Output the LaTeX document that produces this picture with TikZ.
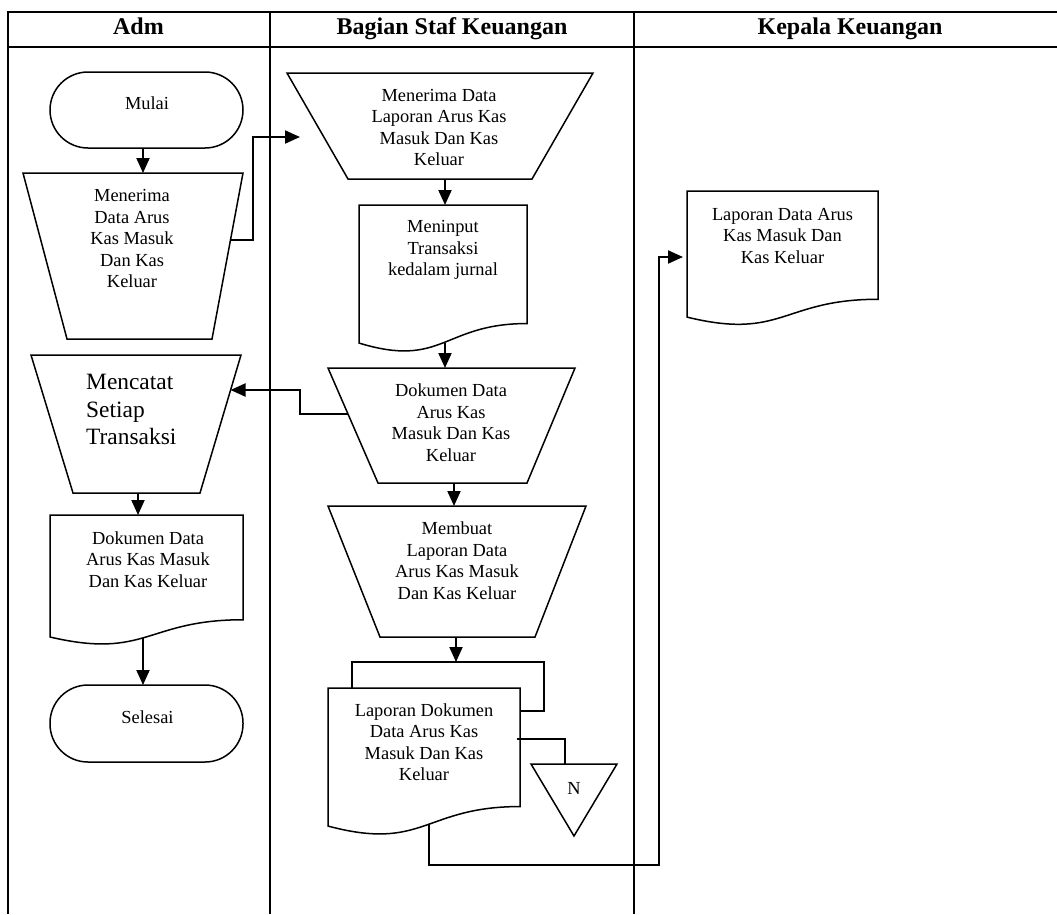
\documentclass[tikz,border=0pt]{standalone}
\usepackage{fontspec}
\setmainfont{Liberation Serif}
\usetikzlibrary{arrows.meta}

% document symbol: left, top, right, height (wavy bottom edge)
\newcommand\docshape[4]{%
  \draw[shp] (#1,#2) -- (#3,#2) -- (#3,{#2+0.802*#4})
    .. controls ({(#1+#3)/2},{#2+0.802*#4}) and ({(#1+#3)/2},{#2+1.1075*#4})
    .. (#1,{#2+0.934*#4}) -- cycle;}

\begin{document}
\begin{tikzpicture}[x=1pt,y=-1pt,
  lane/.style={line width=2pt},
  shp/.style={line width=1.5pt, line join=miter},
  flow/.style={line width=2pt},
  arr/.style={flow,-{Triangle[length=15pt,width=13pt]}},
  txt/.style={inner sep=0pt, align=center, font=\fontsize{18.4}{21.5}\selectfont},
  bigtxt/.style={inner sep=0pt, align=left, anchor=west, font=\fontsize{23.4}{27.5}\selectfont},
  head/.style={inner sep=0pt, anchor=base, font=\fontsize{24}{28}\selectfont\bfseries},
]
\useasboundingbox (0,0) rectangle (1057,914);
\fill[white] (0,0) rectangle (1057,914);

% swimlane frame
\draw[lane] (7.5,914) -- (7.5,11.7) -- (1057,11.7);
\draw[lane] (7.5,47.3) -- (1057,47.3);
\draw[lane] (270,11.7) -- (270,914);
\draw[lane] (634,11.7) -- (634,914);
\node[head] (hadm) at (138.5,34) {Adm};
\node[head] (hstaf) at (452,34) {Bagian Staf Keuangan};
\node[head] (hkepala) at (850,34) {Kepala Keuangan};

% --- Adm lane ---
\draw[shp, rounded corners=38pt] (50,72) rectangle (243,148);
\node[txt] (mulai) at (147,103) {Mulai};

\draw[shp] (23,173) -- (243,173) -- (212,339) -- (67,339) -- cycle;
\node[txt] (terima) at (132,238.5) {Menerima\\Data Arus\\Kas Masuk\\Dan Kas\\Keluar};

\draw[shp] (31,355) -- (241,355) -- (200,493) -- (73,493) -- cycle;
\node[bigtxt] (catat) at (86,409.5) {Mencatat\\Setiap\\Transaksi};

\docshape{50}{515}{243}{130.6}
\node[txt] (dokadm) at (148,559.5) {Dokumen Data\\Arus Kas Masuk\\Dan Kas Keluar};

\draw[shp, rounded corners=38pt] (50,685) rectangle (243,762);
\node[txt] (selesai) at (147.5,717) {Selesai};

% --- Bagian Staf Keuangan lane ---
\draw[shp] (287,73) -- (593,73) -- (532,179) -- (348,179) -- cycle;
\node[txt] (terimalap) at (439,127.5) {Menerima Data\\Laporan Arus Kas\\Masuk Dan Kas\\Keluar};

\docshape{359}{205}{527}{147.8}
\node[txt] (input) at (443,250) {Meninput\\Transaksi\\kedalam jurnal};

\draw[shp] (328,368) -- (575,368) -- (527,483) -- (378,483) -- cycle;
\node[txt] (dokstaf) at (451,422.5) {Dokumen Data\\Arus Kas\\Masuk Dan Kas\\Keluar};

\draw[shp] (328,506) -- (586,506) -- (535,637) -- (380,637) -- cycle;
\node[txt] (buat) at (457,560.5) {Membuat\\Laporan Data\\Arus Kas Masuk\\Dan Kas Keluar};

\draw[shp] (352,688) -- (352,662) -- (544,662) -- (544,711) -- (520,711);
\docshape{328}{688}{520}{147.8}
\node[txt] (lapdok) at (424,742) {Laporan Dokumen\\Data Arus Kas\\Masuk Dan Kas\\Keluar};

\draw[shp] (531,764) -- (617,764) -- (574,836) -- cycle;
\node[txt] (arsip) at (574,788) {N};

% --- Kepala Keuangan lane ---
\docshape{687}{191}{878}{135}
\node[txt] (lapkepala) at (782.5,236) {Laporan Data Arus\\Kas Masuk Dan\\Kas Keluar};

% connection points on the symbols
\coordinate (mulai-s) at (143,148);
\coordinate (terima-n) at (143,173);
\coordinate (terima-e) at (229.5,240);
\coordinate (terimalap-w) at (300,137);
\coordinate (terimalap-s) at (445,179);
\coordinate (input-n) at (445,205);
\coordinate (input-s) at (445,343);
\coordinate (dokstaf-n) at (445,368);
\coordinate (dokstaf-w) at (348,414);
\coordinate (catat-e) at (230.5,390);
\coordinate (catat-s) at (138,493);
\coordinate (dokadm-n) at (138,515);
\coordinate (dokadm-s) at (143,638);
\coordinate (selesai-n) at (143,685);
\coordinate (dokstaf-s) at (454,483);
\coordinate (buat-n) at (454,506);
\coordinate (buat-s) at (456,637);
\coordinate (lapdok-n) at (456,662);
\coordinate (lapdok-e) at (517,739);
\coordinate (arsip-n) at (565,764);
\coordinate (lapdok-s) at (429,824.4);
\coordinate (lapkepala-w) at (683,257);

% flow lines
\draw[arr] (mulai-s) -- (terima-n);
\draw[arr] (terima-e) -- (253,240) -- (253,137) -- (terimalap-w);
\draw[arr] (terimalap-s) -- (input-n);
\draw[arr] (input-s) -- (dokstaf-n);
\draw[arr] (dokstaf-w) -- (300,414) -- (300,390) -- (catat-e);
\draw[arr] (catat-s) -- (dokadm-n);
\draw[arr] (dokadm-s) -- (selesai-n);
\draw[arr] (dokstaf-s) -- (buat-n);
\draw[arr] (buat-s) -- (lapdok-n);
\draw[flow] (lapdok-e) -- (565,739) -- (arsip-n);
\draw[arr] (lapdok-s) -- (429,865) -- (659,865) -- (659,257) -- (lapkepala-w);
\end{tikzpicture}
\end{document}
